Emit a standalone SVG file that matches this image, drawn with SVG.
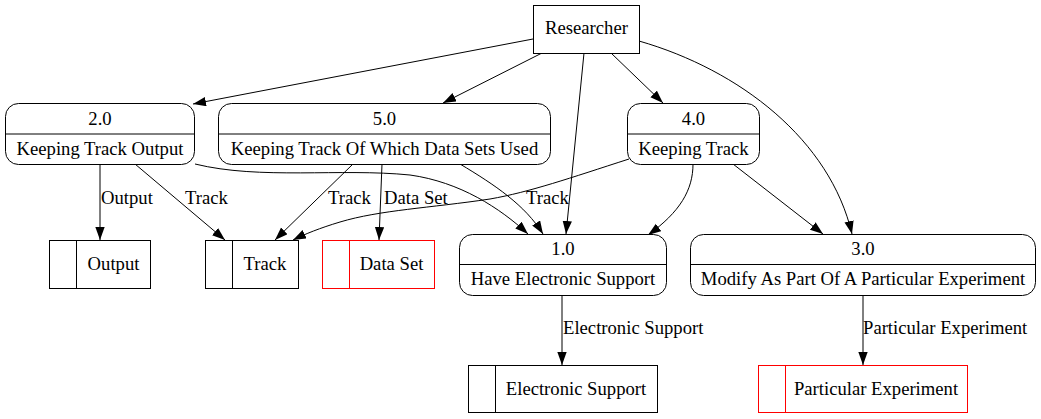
<svg xmlns="http://www.w3.org/2000/svg" width="1041" height="419" viewBox="0 0 1041 419">
<style>
.t{font-family:"Liberation Serif","Times New Roman",serif;font-size:18.67px;fill:#000}
.c{text-anchor:middle}
.n{fill:#fff;stroke:#000;stroke-width:1}
.r{fill:#fff;stroke:#ff0000;stroke-width:1}
.ln{stroke:#000;stroke-width:1;fill:none}
.lr{stroke:#ff0000;stroke-width:1;fill:none}
.e{stroke:#000;stroke-width:1;fill:none;marker-end:url(#ah)}
</style>
<defs>
<marker id="ah" markerUnits="userSpaceOnUse" markerWidth="14" markerHeight="10" refX="13" refY="4.67" orient="auto">
<path d="M0,0 L13,4.67 L0,9.33 z" fill="#000"/>
</marker>
</defs>
<rect width="1041" height="419" fill="#fff"/>
<g id="connectors">
<path class="e" d="M533,39 L193,104"/>
<path class="e" d="M542,53 L443,103"/>
<path class="e" d="M611,53 L663,103"/>
<path class="e" d="M584,53 L566,234"/>
<path class="e" d="M639,41 C740,70 830,140 852,234"/>
<path class="e" d="M100,164 L100,240"/>
<path class="e" d="M135,164 L225,240"/>
<path class="e" d="M195,164 C260,180 340,168 410,175 C460,182 500,208 528,234"/>
<path class="e" d="M353,164 L275,240"/>
<path class="e" d="M382,164 L379,240"/>
<path class="e" d="M460,164 C495,185 525,205 543,234"/>
<path class="e" d="M629,159 C570,178 530,192 490,199 C430,208 380,210 340,222 C320,228 305,234 293,240"/>
<path class="e" d="M693,164 C693,190 680,212 648,235"/>
<path class="e" d="M733,164 L823,234"/>
<path class="e" d="M562,295 L562,365"/>
<path class="e" d="M863,295 L863,365"/>
<text class="t" x="101" y="204">Output</text>
<text class="t" x="185" y="204">Track</text>
<text class="t" x="328" y="204">Track</text>
<text class="t" x="384" y="204">Data Set</text>
<text class="t" x="526" y="204">Track</text>
<text class="t" x="563" y="334">Electronic Support</text>
<text class="t" x="863" y="334">Particular Experiment</text>
</g>
<g id="researcher">
<rect class="n" x="533.5" y="5.5" width="106" height="48"/>
<text class="t c" x="586.5" y="34">Researcher</text>
</g>
<g id="p2">
<rect class="n" x="5.5" y="103.5" width="189" height="61" rx="13"/>
<line class="ln" x1="5.5" y1="134" x2="194.5" y2="134"/>
<text class="t c" x="100" y="125">2.0</text>
<text class="t c" x="100" y="155">Keeping Track Output</text>
</g>
<g id="p5">
<rect class="n" x="218.5" y="103.5" width="332" height="61" rx="13"/>
<line class="ln" x1="218.5" y1="134" x2="550.5" y2="134"/>
<text class="t c" x="384.5" y="125">5.0</text>
<text class="t c" x="384.5" y="155">Keeping Track Of Which Data Sets Used</text>
</g>
<g id="p4">
<rect class="n" x="627.5" y="103.5" width="132" height="61" rx="13"/>
<line class="ln" x1="627.5" y1="134" x2="759.5" y2="134"/>
<text class="t c" x="693.5" y="125">4.0</text>
<text class="t c" x="693.5" y="155">Keeping Track</text>
</g>
<g id="p1">
<rect class="n" x="459.5" y="234.5" width="207" height="61" rx="13"/>
<line class="ln" x1="459.5" y1="264.5" x2="666.5" y2="264.5"/>
<text class="t c" x="563" y="255">1.0</text>
<text class="t c" x="563" y="285">Have Electronic Support</text>
</g>
<g id="p3">
<rect class="n" x="690.5" y="234.5" width="345" height="61" rx="13"/>
<line class="ln" x1="690.5" y1="264.5" x2="1035.5" y2="264.5"/>
<text class="t c" x="863" y="255">3.0</text>
<text class="t c" x="863" y="285">Modify As Part Of A Particular Experiment</text>
</g>
<g id="s-output">
<rect class="n" x="49.5" y="240.5" width="101" height="48"/>
<line class="ln" x1="76.5" y1="240.5" x2="76.5" y2="288.5"/>
<text class="t c" x="113.5" y="270">Output</text>
</g>
<g id="s-track">
<rect class="n" x="205.5" y="240.5" width="93" height="48"/>
<line class="ln" x1="232.5" y1="240.5" x2="232.5" y2="288.5"/>
<text class="t c" x="265" y="270">Track</text>
</g>
<g id="s-dataset">
<rect class="r" x="322.5" y="240.5" width="112" height="48"/>
<line class="lr" x1="349.5" y1="240.5" x2="349.5" y2="288.5"/>
<text class="t c" x="391.5" y="270">Data Set</text>
</g>
<g id="s-electronic">
<rect class="n" x="468.5" y="365.5" width="189" height="47"/>
<line class="ln" x1="495.5" y1="365.5" x2="495.5" y2="412.5"/>
<text class="t c" x="576" y="395">Electronic Support</text>
</g>
<g id="s-particular">
<rect class="r" x="758.5" y="365.5" width="209" height="47"/>
<line class="lr" x1="785.5" y1="365.5" x2="785.5" y2="412.5"/>
<text class="t c" x="876" y="395">Particular Experiment</text>
</g>
</svg>
